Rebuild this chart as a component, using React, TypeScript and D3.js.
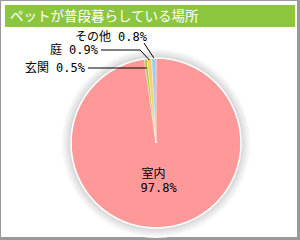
import React from 'react';
import * as d3 from 'd3';

const TITLE = 'ペットが普段暮らしている場所';
const places = ['室内', '玄関', '庭', 'その他'];
const shares = [97.8, 0.5, 0.9, 0.8];
const colors = ['#ff9999', '#99cc33', '#ffcc66', '#99ccff'];

const W = 300;
const H = 240;
const cx = 156;
const cy = 143;
const R = 85;

// hand placed label spots for the thin slices; the leader ends inside its slice at `tipY`
const labelSpots: Record<string, { x: number; y: number; elbow?: [number, number]; tipY: number }> = {
  '玄関': { x: 85, y: 68, tipY: 68 },
  '庭': { x: 98, y: 50, elbow: [140, 50], tipY: 60 },
  'その他': { x: 147, y: 37, elbow: [144, 43], tipY: 58 },
};

const labelFont = '"DejaVu Sans Mono", "Noto Sans CJK JP", monospace';

export default function App() {
  const rows = places.map((p, i) => ({ place: p, share: shares[i], color: colors[i] }));
  const pie = d3.pie<typeof rows[0]>().sort(null).value(d => d.share);
  const arcs = pie(rows);
  const arc = d3.arc<d3.PieArcDatum<typeof rows[0]>>().innerRadius(0).outerRadius(R);
  const mid = (a: d3.PieArcDatum<any>) => (a.startAngle + a.endAngle) / 2;

  return (
    <svg width={W} height={H} style={{ position: 'absolute', left: 0, top: 0 }}>
      <defs>
        <radialGradient id="halo" cx="50%" cy="50%" r="50%">
          <stop offset="0.88" stopColor="#cccccc" />
          <stop offset="0.94" stopColor="#e8e8e8" />
          <stop offset="1" stopColor="#ffffff" />
        </radialGradient>
      </defs>
      <rect x={0} y={0} width={W} height={H} fill="#fff" />
      <rect x={0.5} y={0.5} width={W - 3} height={H - 3} fill="none" stroke="#999" />
      <line x1={W - 1.5} y1={0} x2={W - 1.5} y2={H} stroke="#999" strokeWidth={3} />
      <line x1={0} y1={H - 1} x2={W} y2={H - 1} stroke="#999" strokeWidth={2} />

      <rect x={5} y={5} width={290} height={22} fill="#8cc63f" />
      <text x={10} y={21} fill="#fff" fontSize={13.5} fontFamily='"Noto Sans CJK JP", sans-serif'>
        {TITLE}
      </text>

      <circle cx={cx} cy={cy} r={R + 10} fill="url(#halo)" />
      <g transform={`translate(${cx},${cy})`}>
        {arcs.map(a => (
          <path key={a.data.place} d={arc(a) || ''} fill={a.data.color} stroke="#fff" strokeWidth={0.4} />
        ))}
        <circle r={R} fill="none" stroke="#fff" strokeWidth={1.5} />
      </g>

      {arcs.slice(1).map(a => {
        const spot = labelSpots[a.data.place];
        const ang = mid(a);
        const rr = (cy - spot.tipY) / Math.cos(ang);
        const tip: [number, number] = [cx + Math.sin(ang) * rr, spot.tipY];
        const start: [number, number] = a.data.place === 'その他' ? spot.elbow! : [spot.x + 3, spot.y];
        const pts: [number, number][] =
          a.data.place === '庭' ? [start, spot.elbow!, tip] : [start, tip];
        return (
          <g key={a.data.place}>
            <path d={d3.line()(pts) || ''} fill="none" stroke="#000" strokeWidth={1} />
            <text
              x={spot.x}
              y={spot.y + 4}
              textAnchor="end"
              fontSize={12}
              fontFamily={labelFont}
              fill="#000"
            >
              {`${a.data.place} ${a.data.share.toFixed(1)}%`}
            </text>
          </g>
        );
      })}

      {(() => {
        const a = arcs[0];
        const [lx, ly] = d3.arc<any>().innerRadius(38).outerRadius(38).centroid(a);
        return (
          <text textAnchor="middle" fontSize={12} fontFamily={labelFont} fill="#000">
            <tspan x={cx + lx - 5} y={cy + ly - 3}>{a.data.place}</tspan>
            <tspan x={cx + lx} y={cy + ly + 11}>{`${a.data.share.toFixed(1)}%`}</tspan>
          </text>
        );
      })()}
    </svg>
  );
}
